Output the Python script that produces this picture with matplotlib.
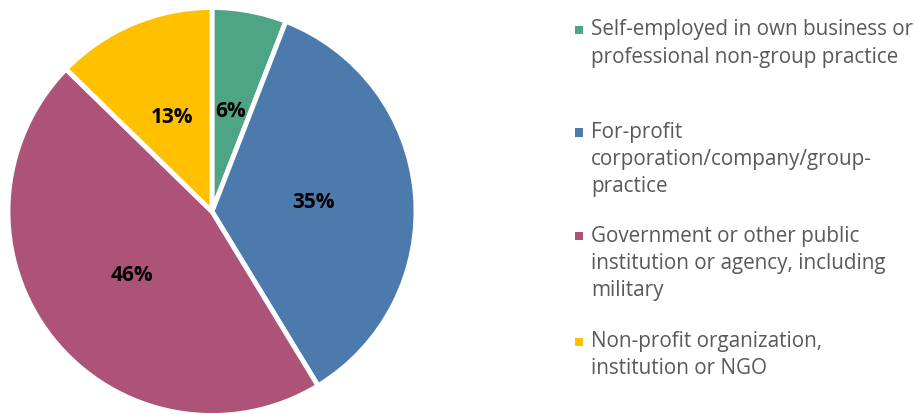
import matplotlib
matplotlib.use("Agg")
import matplotlib.pyplot as plt
from matplotlib.patches import Rectangle

categories = [
    "Self-employed in own business or\nprofessional non-group practice",
    "For-profit\ncorporation/company/group-\npractice",
    "Government or other public\ninstitution or agency, including\nmilitary",
    "Non-profit organization,\ninstitution or NGO",
]
values = [5.9, 35.4, 46.0, 12.7]
pct_labels = ["6%", "35%", "46%", "13%"]
colors = ["#4EA585", "#4C7AAC", "#AE5378", "#FFC000"]

plt.rcParams['font.family'] = ['Open Sans', 'DejaVu Sans']

W, H = 920, 415
fig = plt.figure(figsize=(W / 100, H / 100), dpi=100)

cx, cy, r = 212, 211.5, 204
ax = fig.add_axes([(cx - r) / W, (H - cy - r) / H, 2 * r / W, 2 * r / H])
wedges, texts = ax.pie(values, colors=colors, startangle=90, counterclock=False,
                       radius=1.0, labels=pct_labels, labeldistance=0.5,
                       wedgeprops=dict(edgecolor="white", linewidth=3.5),
                       textprops=dict(fontsize=15, fontweight="bold", color="black",
                                      ha="center", va="center"))
ax.set_xlim(-1.0, 1.0)
ax.set_ylim(-1.0, 1.0)
ax.set_aspect("equal")
ax.axis("off")

# legend drawn manually
entry_top = [30, 132, 236, 341]
line_h = 27
text_x = 591
for cat, col, y0 in zip(categories, colors, entry_top):
    for i, line in enumerate(cat.split("\n")):
        y = y0 + i * line_h
        fig.text(text_x / W, 1 - y / H, line, fontsize=14.9, color="#595959",
                 ha="left", va="center")
    fig.patches.append(Rectangle(((575) / W, 1 - (y0 + 4.5) / H), 8 / W, 8 / H,
                                 transform=fig.transFigure, facecolor=col,
                                 edgecolor="none"))

fig.savefig("out.png", dpi=100)
